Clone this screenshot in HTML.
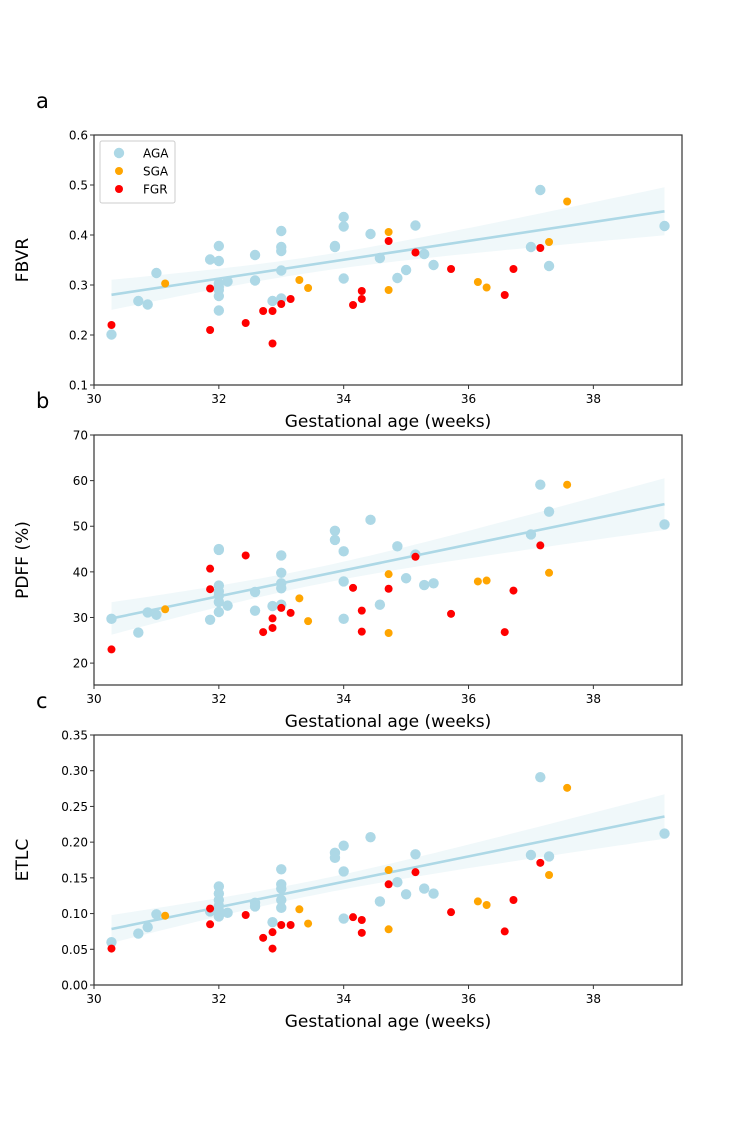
<!DOCTYPE html>
<html><head><meta charset="utf-8"><style>
html,body{margin:0;padding:0;background:#fff;}
svg{display:block;font-family:"DejaVu Sans","Liberation Sans",sans-serif;}
</style></head><body>
<svg id="chart" width="750" height="1125" viewBox="0 0 750 1125" xmlns="http://www.w3.org/2000/svg"></svg>
<script>
// ---- shared x data (gestational age, weeks) ----
const xTicks = [30, 32, 34, 36, 38];
// Panel a: FBVR
const aAgaX = [30.28,30.71,30.86,31.0,31.86,32,32,32,32,32,32,32,32.14,32.58,32.58,32.86,33,33,33,33,33,33.86,33.86,34,34,34,34.43,34.58,34.86,35.0,35.15,35.29,35.44,37.0,37.15,37.29,39.14];
const aAgaY = [0.201,0.268,0.261,0.324,0.351,0.378,0.348,0.303,0.296,0.290,0.278,0.249,0.307,0.360,0.309,0.268,0.408,0.376,0.368,0.329,0.273,0.378,0.376,0.436,0.417,0.313,0.402,0.354,0.314,0.330,0.419,0.362,0.340,0.376,0.490,0.338,0.418];
const aSgaX = [31.14,33.29,33.43,34.72,34.72,36.15,36.29,37.29,37.58];
const aSgaY = [0.303,0.310,0.294,0.406,0.290,0.306,0.295,0.386,0.467];
const aFgrX = [30.28,31.86,31.86,32.43,32.71,32.86,32.86,33.0,33.15,34.15,34.29,34.29,34.72,35.15,35.72,36.58,36.72,37.15];
const aFgrY = [0.220,0.293,0.210,0.224,0.248,0.248,0.183,0.262,0.272,0.260,0.288,0.272,0.388,0.365,0.332,0.280,0.332,0.374];
const aTicks = [0.1,0.2,0.3,0.4,0.5,0.6];
// Panel b: PDFF (%)
const bAgaY = [29.7,26.7,31.1,30.6,29.5,45.0,44.8,37.0,35.7,34.8,33.4,31.2,32.6,35.6,31.5,32.5,43.6,39.8,37.5,36.4,32.8,49.0,47.0,44.5,37.9,29.7,51.4,32.8,45.6,38.6,43.8,37.1,37.5,48.2,59.1,53.2,50.4];
const bSgaY = [31.8,34.2,29.2,39.5,26.6,37.9,38.1,39.8,59.1];
const bFgrY = [23.0,40.7,36.2,43.6,26.8,29.8,27.7,32.1,31.0,36.5,31.5,26.9,36.3,43.3,30.8,26.8,35.9,45.8];
const bTicks = [20,30,40,50,60,70];
// Panel c: ETLC
const cAgaY = [0.060,0.072,0.081,0.099,0.103,0.138,0.128,0.119,0.111,0.105,0.101,0.096,0.101,0.115,0.110,0.088,0.162,0.141,0.135,0.119,0.108,0.185,0.178,0.195,0.159,0.093,0.207,0.117,0.144,0.127,0.183,0.135,0.128,0.182,0.291,0.180,0.212];
const cSgaY = [0.097,0.106,0.086,0.161,0.078,0.117,0.112,0.154,0.276];
const cFgrY = [0.051,0.107,0.085,0.098,0.066,0.074,0.051,0.084,0.084,0.095,0.091,0.073,0.141,0.158,0.102,0.075,0.119,0.171];
const cTicks = [0.00,0.05,0.10,0.15,0.20,0.25,0.30,0.35];

const NS="http://www.w3.org/2000/svg";
const svg=document.getElementById('chart');
function mk(tag,attrs,parent){const e=document.createElementNS(NS,tag);for(const k in attrs)e.setAttribute(k,attrs[k]);(parent||svg).appendChild(e);return e;}

function panel(letter,top,ylab,ymin,ymax,ticks,fmt,agaY,sgaY,fgrY,legend){
  const L=94,R=682,T=top,B=top+250;
  const xmin=30,xmax=39.42;
  const sx=v=>L+(v-xmin)/(xmax-xmin)*(R-L);
  const sy=v=>B-(v-ymin)/(ymax-ymin)*(B-T);
  const g=mk('g',{});
  
  
  const pl=mk('text',{x:36,y:top-27,'font-size':21,fill:'#000'},g);pl.textContent=letter;
  
  
  // regression over AGA points
  const X=aAgaX, Y=agaY;
  const n=X.length; const xm=X.reduce((a,b)=>a+b)/n, ym=Y.reduce((a,b)=>a+b)/n;
  let sxx=0,sxy=0;for(let i=0;i<n;i++){sxx+=(X[i]-xm)**2;sxy+=(X[i]-xm)*(Y[i]-ym);}
  const slope=sxy/sxx, icp=ym-slope*xm;
  let sse=0;for(let i=0;i<n;i++)sse+=(Y[i]-icp-slope*X[i])**2;
  const s=Math.sqrt(sse/(n-2));
  const x0=Math.min(...X), x1=Math.max(...X);
  let up=[],lo=[];
  for(let k=0;k<=60;k++){const xv=x0+(x1-x0)*k/60;const f=icp+slope*xv;const se=2.03*s*Math.sqrt(1/n+(xv-xm)**2/sxx);
    up.push(sx(xv).toFixed(1)+','+sy(f+se).toFixed(1));lo.unshift(sx(xv).toFixed(1)+','+sy(f-se).toFixed(1));}
  const band=mk('polygon',{points:up.concat(lo).join(' '),fill:'#add8e6','fill-opacity':0.18},g);
  
  
  function dots(xs,ys,col,r,name){for(let i=0;i<xs.length;i++){const c=mk('circle',{cx:sx(xs[i]),cy:sy(ys[i]),r:r,fill:col},g);
    
    }}
  dots(aAgaX,agaY,'#add8e6',5.2,'aga');
  const ln=mk('line',{x1:sx(x0),y1:sy(icp+slope*x0),x2:sx(x1),y2:sy(icp+slope*x1),stroke:'#add8e6','stroke-width':2.6},g);
  
  
  dots(aSgaX,sgaY,'#ffa500',4,'sga');
  dots(aFgrX,fgrY,'#ff0000',4,'fgr');
  const fr=mk('rect',{x:L,y:T,width:R-L,height:B-T,fill:'none',stroke:'#333','stroke-width':1.2},g);
  
  
  xTicks.forEach(t=>{mk('line',{x1:sx(t),x2:sx(t),y1:B,y2:B+4,stroke:'#333'},g);
    const tx=mk('text',{x:sx(t),y:B+18,'font-size':12,'text-anchor':'middle'},g);tx.textContent=t;
    
    });
  ticks.forEach(t=>{mk('line',{x1:L-4,x2:L,y1:sy(t),y2:sy(t),stroke:'#333'},g);
    const tx=mk('text',{x:L-6,y:sy(t)+4.5,'font-size':12,'text-anchor':'end'},g);tx.textContent=fmt(t);
    
    });
  const xl=mk('text',{x:(L+R)/2,y:B+42,'font-size':17,'text-anchor':'middle'},g);xl.textContent='Gestational age (weeks)';
  
  
  const cy=(T+B)/2;
  const yl=mk('text',{x:28,y:cy,'font-size':17,'text-anchor':'middle',transform:'rotate(-90 28 '+cy+')'},g);yl.textContent=ylab;
  
  
  if(legend){
    const lg=mk('g',{},g);
    
    
    mk('rect',{x:100,y:141,width:75,height:62,fill:'#fff',stroke:'#ccc',rx:2},lg);
    [['AGA','#add8e6',5.2,153],['SGA','#ffa500',4,171],['FGR','#ff0000',4,189]].forEach(e=>{
      const it=mk('g',{},lg);
      
      
      mk('circle',{cx:119,cy:e[3],r:e[2],fill:e[1]},it);
      const t=mk('text',{x:143,y:e[3]+4.5,'font-size':12},it);t.textContent=e[0];});
  }
}
panel('a',135,'FBVR',0.1,0.6,aTicks,v=>v.toFixed(1),aAgaY,aSgaY,aFgrY,true);
panel('b',435,'PDFF (%)',15.2,70,bTicks,v=>String(v),bAgaY,bSgaY,bFgrY,false);
panel('c',735,'ETLC',0,0.35,cTicks,v=>v.toFixed(2),cAgaY,cSgaY,cFgrY,false);
</script>
</body></html>
